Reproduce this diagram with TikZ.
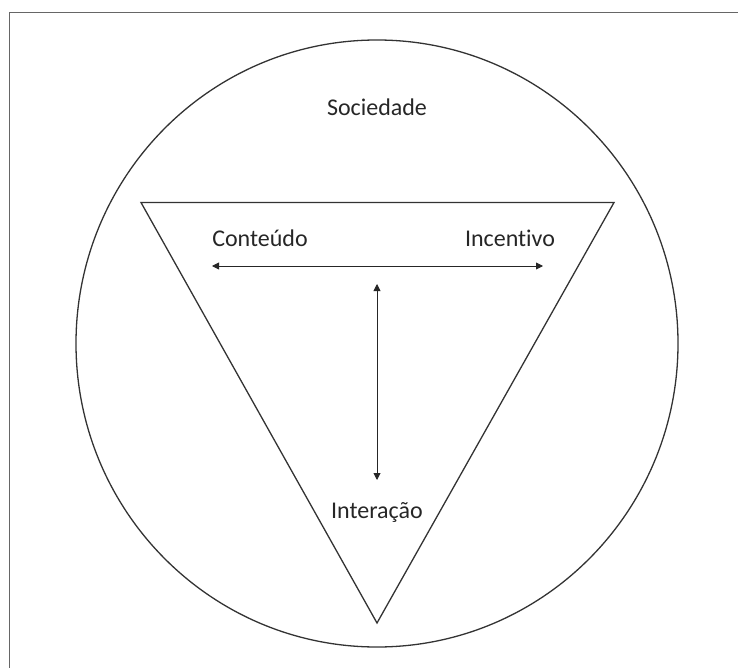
\documentclass[tikz,border=0pt]{standalone}
\usepackage{fontspec}
\setmainfont[Ligatures=NoCommon]{Carlito}
\usetikzlibrary{arrows.meta,shapes.geometric}
\begin{document}
\begin{tikzpicture}[x=1pt,y=-1pt,
  lbl/.style={font=\fontsize{24}{28}\selectfont, text=black!85, inner sep=0pt},
  dbl/.style={{Triangle[length=7pt,width=7pt]}-{Triangle[length=7pt,width=7pt]}, line width=0.9pt, black!85},
  outline/.style={line width=1.3pt, black!80}]
\useasboundingbox (0,0) rectangle (738,668);
\draw[line width=1.6pt, black!60] (9.5,668) -- (9.5,12.5) -- (738,12.5);
\node[outline, draw, ellipse, minimum width=602pt, minimum height=607pt, inner sep=0pt] (soc) at (377,343.5) {};
\coordinate (tl) at (141,202.5);
\coordinate (tr) at (614,202.5);
\coordinate (tb) at (377,623);
\draw[outline, line join=miter] (tl) -- (tr) -- (tb) -- cycle;
\node[lbl] (sociedade) at (377,107) {Sociedade};
\node[lbl] (conteudo) at (260,238) {Conteúdo};
\node[lbl] (incentivo) at (510,238) {Incentivo};
\node[lbl] (interacao) at (377,512) {Interação};
\coordinate (hl) at (212,266);
\coordinate (hr) at (543,266);
\coordinate (vt) at (377,284);
\coordinate (vb) at (377,480);
\draw[dbl] (hl) -- (hr);
\draw[dbl] (vt) -- (vb);
\end{tikzpicture}
\end{document}
